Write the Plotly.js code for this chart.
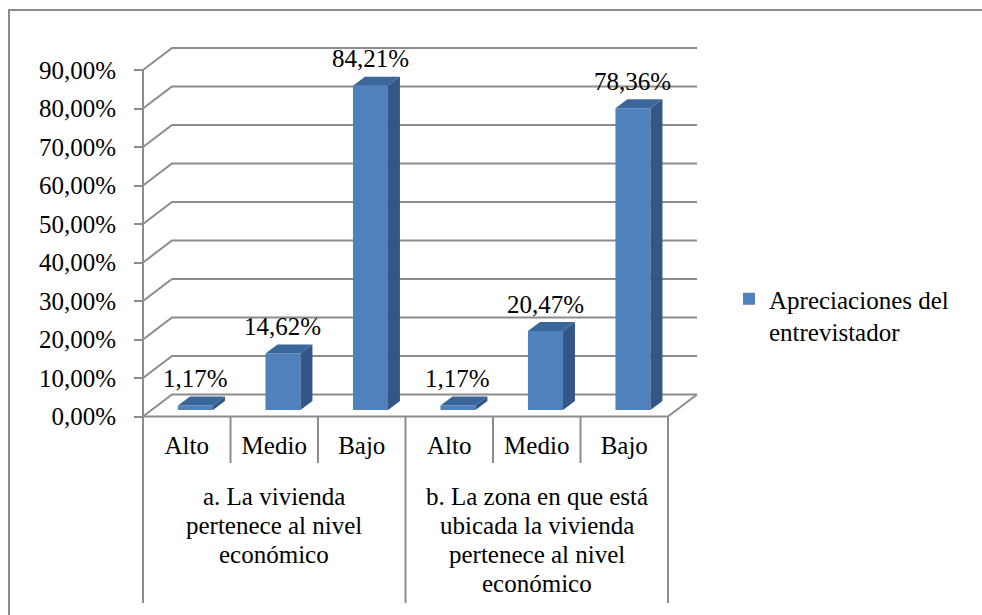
<!DOCTYPE html>
<html>
<head>
<meta charset="utf-8">
<script src="https://cdn.plot.ly/plotly-3.0.1.min.js"></script>
<style>
  html, body { margin: 0; padding: 0; background: #ffffff; }
  #chart { width: 982px; height: 615px; }
</style>
</head>
<body>
<div id="chart"></div>
<script>
// ---- data ----
const categories = ['Alto', 'Medio', 'Bajo', 'Alto', 'Medio', 'Bajo'];
const groupLabelLines = [
  ['a. La vivienda', 'pertenece al nivel', 'económico'],
  ['b. La zona en que está', 'ubicada la vivienda', 'pertenece al nivel', 'económico']
];
const groupSizes = [3, 3];
const values = [1.17, 14.62, 84.21, 1.17, 20.47, 78.36];
const yTicks = [0, 10, 20, 30, 40, 50, 60, 70, 80, 90];
const seriesName = 'Apreciaciones del<br>entrevistador';

// ---- geometry / style ----
const W = 982, H = 615;
const X0 = 143, X1 = 668, Y0 = 416.5, YT = 70;   // front plane (px)
const DX = 29, DY = 22;                          // wall depth (px)
const PAD = 4;
const BAR_DEPTH_POS = 0.3, BAR_W = 0.4, BDX = 12, BDY = 9;
const GROUP_TOP = 496, GROUP_LINE = 29;
const GRID = '#8c8c8c';
const FONT = 'Liberation Serif';
const FS = 25;
const FRONT = '#4F81BD', TOP = '#3B6699', SIDE = '#325787';

const nCat = categories.length;
const yMax = yTicks[yTicks.length - 1];
const pxX = (X1 - X0) / nCat, pxY = (Y0 - YT) / yMax;
const dxu = DX / pxX, dyu = DY / pxY, padX = PAD / pxX, padY = PAD / pxY;
const bdx = BDX / pxX, bdy = BDY / pxY;
const idx = categories.map((c, i) => i);
const xLeft = -0.5, xRight = nCat - 0.5;
const py = p => (H - p) / H;
const fmt = v => v.toFixed(2).replace('.', ',') + '%';
const txtFont = {family: FONT, size: FS, color: '#000'};

const shapes = [];
const line = {color: GRID, width: 2};
// back wall gridlines with diagonals
yTicks.forEach(v => {
  shapes.push({type: 'path', xref: 'x', yref: 'y', layer: 'below', line: line,
    path: `M ${xLeft},${v} L ${xLeft + dxu},${v + dyu} L ${xRight + dxu},${v + dyu}`});
});
// floor right edge, front edge, front axis line
shapes.push({type: 'path', xref: 'x', yref: 'y', layer: 'below', line: line,
  path: `M ${xRight},0 L ${xRight + dxu},${dyu}`});
shapes.push({type: 'path', xref: 'x', yref: 'y', layer: 'below', line: line,
  path: `M ${xLeft},0 L ${xRight},0`});
shapes.push({type: 'path', xref: 'x', yref: 'y', layer: 'below', line: line,
  path: `M ${xLeft},0 L ${xLeft},${yMax}`});

// bar 3D faces
const base = BAR_DEPTH_POS * dyu;
const barX = idx.map(i => i + BAR_DEPTH_POS * dxu);
values.forEach((v, i) => {
  const xl = barX[i] - BAR_W / 2, xr = barX[i] + BAR_W / 2, yb = base, yt = base + v;
  shapes.push({type: 'path', xref: 'x', yref: 'y', layer: 'above', fillcolor: SIDE,
    line: {width: 0},
    path: `M ${xr},${yb} L ${xr},${yt} L ${xr + bdx},${yt + bdy} L ${xr + bdx},${yb + bdy} Z`});
  shapes.push({type: 'path', xref: 'x', yref: 'y', layer: 'above', fillcolor: TOP,
    line: {width: 0},
    path: `M ${xl},${yt} L ${xr},${yt} L ${xr + bdx},${yt + bdy} L ${xl + bdx},${yt + bdy} Z`});
});

// category separators
let acc = 0;
const outer = [0];
groupSizes.forEach(s => { acc += s; outer.push(acc); });
for (let k = 0; k <= nCat; k++) {
  const isOuter = outer.includes(k);
  shapes.push({type: 'line', xref: 'x', yref: 'paper', layer: 'above', line: line,
    x0: k - 0.5, x1: k - 0.5, y0: py(Y0), y1: py(isOuter ? 603 : 463)});
}
// chart border
shapes.push({type: 'rect', xref: 'paper', yref: 'paper', layer: 'below',
  line: {color: GRID, width: 2}, x0: 9 / W, x1: 1.1, y0: -0.1, y1: py(10)});

const annotations = [];
// data labels
values.forEach((v, i) => {
  annotations.push({x: barX[i], y: base + v, xref: 'x', yref: 'y', text: fmt(v),
    showarrow: false, yshift: 27, yanchor: 'middle', font: txtFont});
});
// group labels
let start = 0;
groupLabelLines.forEach((lines, k) => {
  const center = start + (groupSizes[k] - 1) / 2;
  lines.forEach((t, j) => {
    annotations.push({x: center, y: py(GROUP_TOP + j * GROUP_LINE), xref: 'x', yref: 'paper',
      text: t, showarrow: false, yanchor: 'middle', xanchor: 'center', font: txtFont});
  });
  start += groupSizes[k];
});

const trace = {
  type: 'bar', x: barX, y: values, base: base, width: BAR_W,
  name: seriesName, marker: {color: FRONT, line: {width: 0}},
  hovertemplate: '%{y:.2f}%<extra></extra>'
};

const layout = {
  width: W, height: H,
  margin: {l: 0, r: 0, t: 0, b: 0},
  paper_bgcolor: '#ffffff', plot_bgcolor: 'rgba(0,0,0,0)',
  font: txtFont,
  showlegend: true,
  legend: {x: 729 / W, y: py(276), xanchor: 'left', yanchor: 'top', valign: 'top',
    font: txtFont, bgcolor: 'rgba(0,0,0,0)'},
  xaxis: {
    domain: [(X0 - PAD) / W, (X1 + DX + PAD) / W],
    range: [xLeft - padX, xRight + dxu + padX],
    anchor: 'free', position: py(Y0),
    tickmode: 'array', tickvals: idx, ticktext: categories,
    ticks: '', showgrid: false, zeroline: false, showline: false,
    ticklabelstandoff: 11, fixedrange: true, tickfont: txtFont
  },
  yaxis: {
    domain: [py(Y0 + PAD), py(YT - DY - PAD)],
    range: [-padY, yMax + dyu + padY],
    anchor: 'free', position: X0 / W,
    tickmode: 'array', tickvals: yTicks, ticktext: yTicks.map(fmt),
    ticks: 'outside', ticklen: 9, tickwidth: 2, tickcolor: GRID,
    showgrid: false, zeroline: false, showline: false, fixedrange: true,
    ticklabelstandoff: 13, tickfont: txtFont
  },
  shapes: shapes,
  annotations: annotations
};

Plotly.newPlot('chart', [trace], layout, {displayModeBar: false, staticPlot: true});
</script>
</body>
</html>
